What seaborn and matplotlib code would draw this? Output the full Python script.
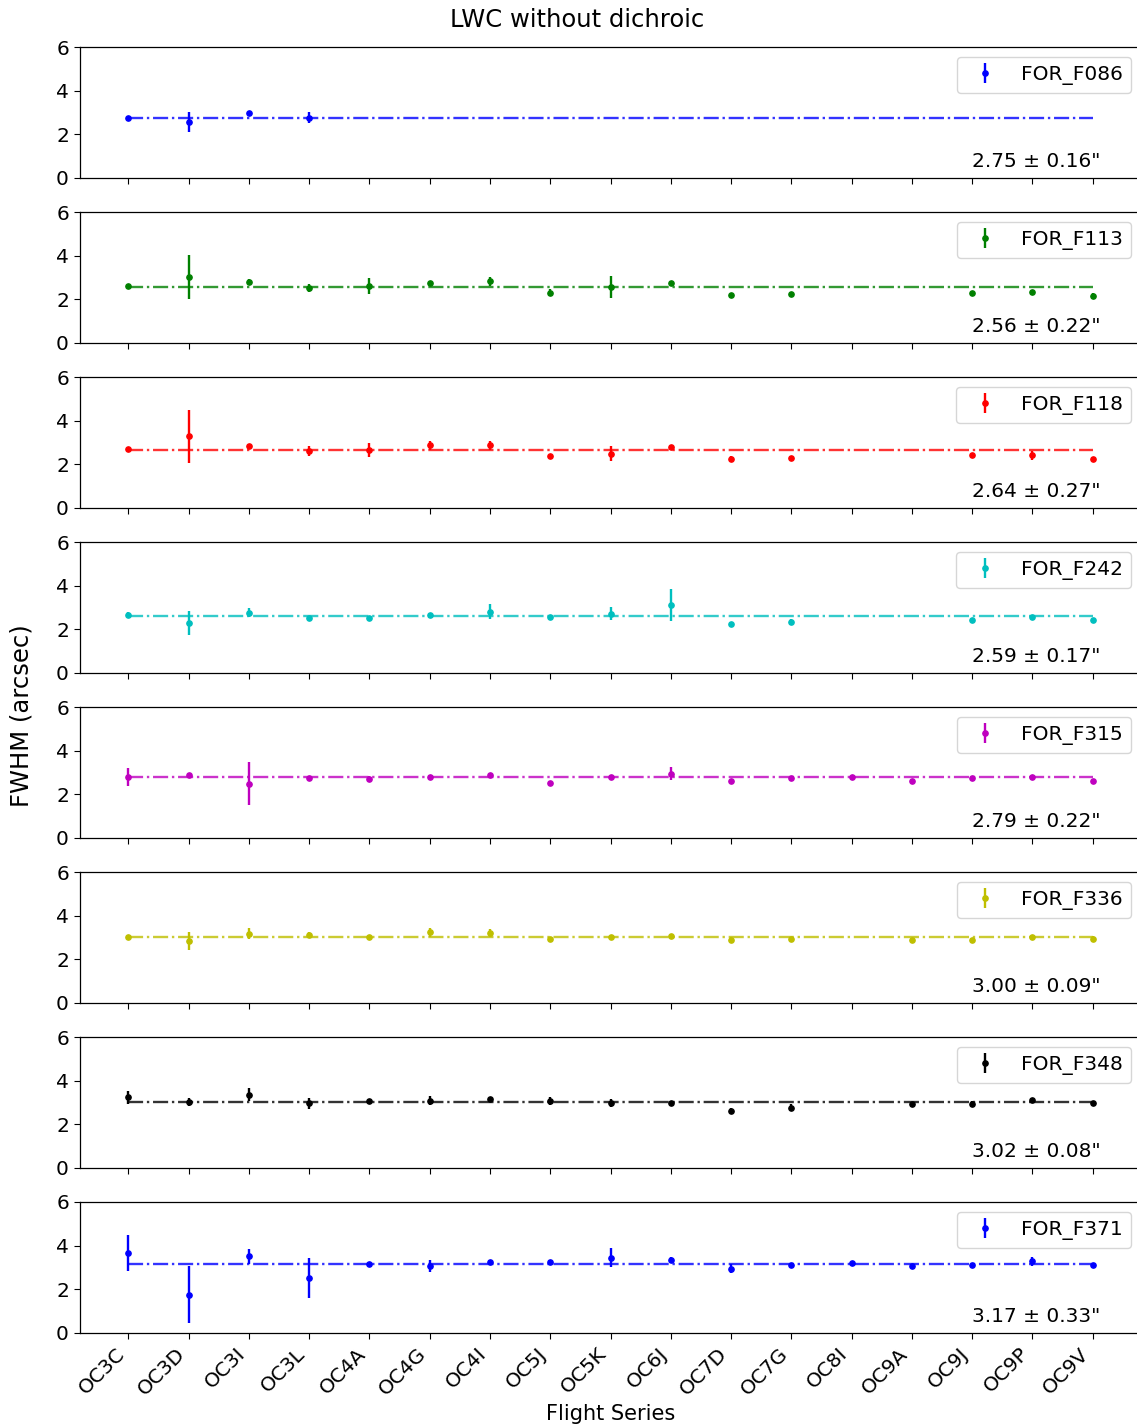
import numpy as np
import pandas as pd
import matplotlib
matplotlib.use("Agg")
import matplotlib.pyplot as plt
import seaborn as sns

nan = np.nan

flights = ["OC3C", "OC3D", "OC3I", "OC3L", "OC4A", "OC4G", "OC4I", "OC5J", "OC5K",
           "OC6J", "OC7D", "OC7G", "OC8I", "OC9A", "OC9J", "OC9P", "OC9V"]

filters = ["FOR_F086", "FOR_F113", "FOR_F118", "FOR_F242",
           "FOR_F315", "FOR_F336", "FOR_F348", "FOR_F371"]
colors = ["b", "g", "r", "c", "m", "y", "k", "b"]

# mean and scatter of FWHM for each filter (arcsec)
fwhm_mean = [2.75, 2.56, 2.64, 2.59, 2.79, 3.00, 3.02, 3.17]
fwhm_std = [0.16, 0.22, 0.27, 0.17, 0.22, 0.09, 0.08, 0.33]

f086 = [2.74, 2.55, 2.97, 2.77, nan, nan, nan, nan, nan, nan, nan, nan, nan, nan, nan, nan, nan]
f086_err = [0.04, 0.45, 0.05, 0.25, nan, nan, nan, nan, nan, nan, nan, nan, nan, nan, nan, nan, nan]

f113 = [2.60, 3.02, 2.80, 2.53, 2.62, 2.73, 2.82, 2.30, 2.56, 2.74, 2.21, 2.26, nan, nan, 2.29, 2.33, 2.15]
f113_err = [0.05, 1.00, 0.12, 0.18, 0.37, 0.08, 0.20, 0.15, 0.50, 0.10, 0.07, 0.08, nan, nan, 0.07, 0.10, 0.15]

f118 = [2.68, 3.29, 2.86, 2.61, 2.64, 2.87, 2.87, 2.37, 2.49, 2.79, 2.26, 2.30, nan, nan, 2.41, 2.41, 2.24]
f118_err = [0.06, 1.22, 0.06, 0.24, 0.32, 0.20, 0.20, 0.07, 0.35, 0.08, 0.10, 0.08, nan, nan, 0.10, 0.20, 0.08]

f242 = [2.67, 2.29, 2.77, 2.50, 2.53, 2.67, 2.80, 2.57, 2.71, 3.11, 2.23, 2.33, nan, nan, 2.41, 2.56, 2.41]
f242_err = [0.12, 0.53, 0.20, 0.05, 0.08, 0.10, 0.35, 0.08, 0.30, 0.75, 0.10, 0.12, nan, nan, 0.08, 0.10, 0.07]

f315 = [2.80, 2.88, 2.48, 2.73, 2.70, 2.80, 2.90, 2.52, 2.78, 2.95, 2.60, 2.74, 2.79, 2.60, 2.74, 2.79, 2.60]
f315_err = [0.40, 0.10, 0.99, 0.04, 0.12, 0.10, 0.08, 0.07, 0.10, 0.30, 0.08, 0.12, 0.05, 0.05, 0.07, 0.07, 0.07]

f336 = [3.04, 2.84, 3.18, 3.12, 3.01, 3.24, 3.20, 2.92, 3.00, 3.08, 2.90, 2.93, nan, 2.87, 2.87, 3.00, 2.93]
f336_err = [0.05, 0.42, 0.26, 0.12, 0.05, 0.20, 0.20, 0.10, 0.06, 0.08, 0.10, 0.08, nan, 0.10, 0.12, 0.08, 0.12]

f348 = [3.23, 3.02, 3.35, 2.97, 3.05, 3.09, 3.15, 3.05, 2.99, 2.99, 2.60, 2.76, nan, 2.91, 2.95, 3.10, 2.99]
f348_err = [0.28, 0.20, 0.30, 0.25, 0.12, 0.20, 0.07, 0.18, 0.18, 0.08, 0.15, 0.15, nan, 0.06, 0.12, 0.08, 0.05]

f371 = [3.65, 1.76, 3.51, 2.52, 3.14, 3.08, 3.26, 3.26, 3.45, 3.34, 2.94, 3.12, 3.20, 3.08, 3.10, 3.28, 3.10]
f371_err = [0.83, 1.29, 0.35, 0.93, 0.08, 0.28, 0.07, 0.07, 0.42, 0.15, 0.20, 0.10, 0.07, 0.10, 0.10, 0.20, 0.05]

values = [f086, f113, f118, f242, f315, f336, f348, f371]
errors = [f086_err, f113_err, f118_err, f242_err, f315_err, f336_err, f348_err, f371_err]

sns.set_style("ticks")
plt.rcParams["font.family"] = ["DejaVu Sans"]
plt.rcParams.update({
    "xtick.labelsize": 14.5,
    "ytick.labelsize": 14.5,
    "text.color": "black",
    "axes.labelcolor": "black",
    "xtick.color": "black",
    "ytick.color": "black",
    "axes.edgecolor": "black",
    "xtick.major.size": 4.5,
    "ytick.major.size": 4.5,
})

fig, axes = plt.subplots(len(filters), 1, figsize=(11.37, 14.25), dpi=100, sharex=True)
fig.subplots_adjust(left=0.0704, right=1.0035, top=0.967, bottom=0.0646, hspace=0.26)

pos = np.arange(len(flights))
for ax, name, col, vals, errs, mu, sd in zip(axes, filters, colors, values, errors,
                                             fwhm_mean, fwhm_std):
    df = pd.DataFrame({"pos": pos, "fwhm": vals, "err": errs}).dropna()
    ax.errorbar(df["pos"], df["fwhm"], yerr=df["err"], fmt="o", color=col,
                ms=3.8, elinewidth=1.7, capsize=0, label=name)
    sns.lineplot(x=pos, y=np.full(len(pos), mu), ax=ax, color=col, lw=1.7,
                 linestyle="-.", alpha=0.8)
    ax.set_ylim(0, 6)
    ax.set_yticks([0, 2, 4, 6])
    ax.set_xlim(-0.8, len(flights) - 0.2)
    ax.legend(loc="upper right", fontsize=14.5)
    ax.text(14, 0.5, f"{mu:.2f} \u00b1 {sd:.2f}\"", fontsize=14.5)
    for s in ax.spines.values():
        s.set_linewidth(0.9)

axes[-1].set_xticks(pos)
axes[-1].set_xticklabels(flights, rotation=45, ha="right")
axes[-1].set_xlabel("Flight Series", fontsize=15)

fig.text(0.5075, 0.986, "LWC without dichroic", ha="center", va="center", fontsize=17.5)
fig.text(0.019, 0.498, "FWHM (arcsec)", ha="center", va="center", rotation=90, fontsize=17.5)

fig.savefig("out.png", dpi=100)
